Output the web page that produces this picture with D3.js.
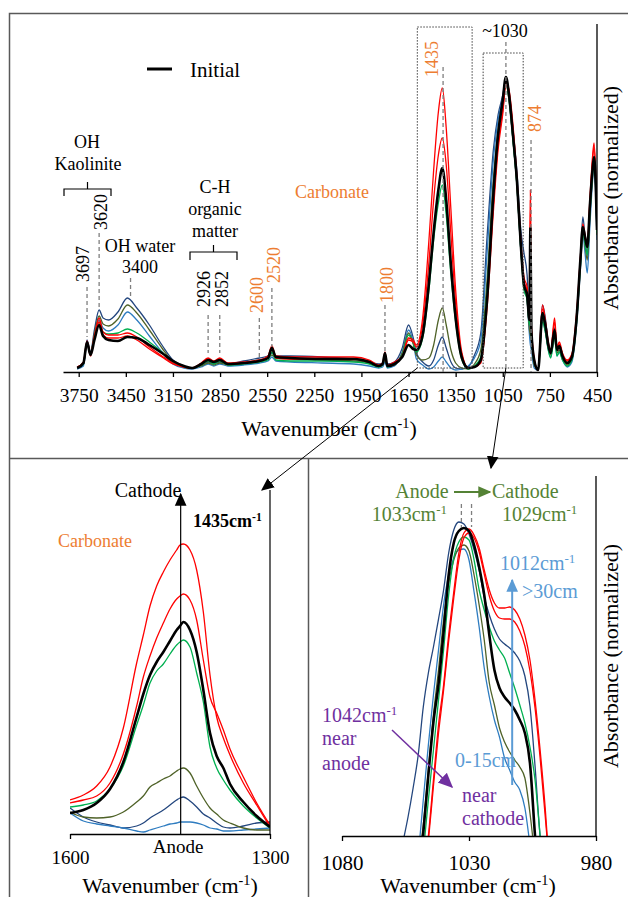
<!DOCTYPE html>
<html>
<head>
<meta charset="UTF-8">
<title>FTIR spectra</title>
<script src="https://cdn.jsdelivr.net/npm/d3@7"></script>
<style>
  body { margin: 0; background: #ffffff; }
</style>
</head>
<body>
<svg id="chart" width="628" height="897"></svg>
<script>
// ---- overview spectra, 3760-450 cm-1 (absorbance, arbitrary units) ----
const wnFull = [3760, 3720, 3697, 3675, 3650, 3620, 3595, 3560, 3500, 3440,
  3380, 3300, 3220, 3150, 3080, 3030, 2970, 2926, 2890, 2852,
  2800, 2700, 2600, 2545, 2520, 2495, 2400, 2200, 2000, 1900,
  1840, 1815, 1800, 1785, 1740, 1690, 1650, 1620, 1600, 1560,
  1520, 1490, 1460, 1435, 1410, 1380, 1350, 1310, 1270, 1230,
  1190, 1150, 1110, 1080, 1050, 1030, 1010, 985, 960, 935,
  915, 895, 880, 874, 868, 850, 825, 797, 779, 760,
  745, 720, 705, 690, 670, 640, 610, 580, 555, 540,
  525, 512, 495, 480, 469, 458, 450];
const fullRed1 = [5, 10, 31, 18, 36, 54, 40, 37, 37, 39, 35, 25, 16, 9, 5, 4, 9, 14, 11, 14,
  9, 10, 12, 16, 26, 16, 15, 15, 15, 12, 7, 9, 20, 7, 10, 16, 34, 32, 27, 54,
  132, 202, 260, 284, 244, 162, 82, 19, 4, 5, 10, 69, 167, 227, 262, 290, 282, 247, 195, 132,
  95, 85, 57, 182, 47, 14, 2, 67, 52, 30, 22, 54, 25, 30, 19, 12, 18, 59, 117, 148,
  136, 128, 174, 212, 229, 197, 147];
const fullRed2 = [5, 9, 29, 16, 33, 50, 37, 34, 34, 36, 32, 23, 15, 8, 5, 4, 8, 13, 10, 13,
  8, 9, 11, 14, 23, 14, 13, 13, 13, 11, 6, 8, 17, 6, 9, 15, 32, 30, 25, 47,
  110, 172, 217, 234, 207, 137, 69, 17, 4, 5, 9, 64, 160, 222, 258, 287, 278, 242, 190, 127,
  90, 82, 54, 172, 44, 12, 2, 63, 49, 28, 20, 50, 23, 28, 17, 11, 17, 56, 113, 145,
  133, 125, 170, 208, 225, 193, 144];
const fullInitial = [4, 9, 30, 17, 32, 47, 36, 32, 31, 35, 34, 27, 19, 11, 6, 4, 8, 12, 10, 12,
  8, 9, 11, 14, 24, 15, 14, 13, 13, 10, 6, 8, 19, 6, 8, 15, 27, 23, 22, 37,
  89, 140, 182, 204, 172, 107, 54, 14, 4, 5, 12, 72, 177, 237, 272, 295, 277, 237, 192, 127,
  87, 77, 52, 144, 42, 12, 2, 59, 47, 27, 19, 42, 22, 26, 16, 9, 15, 54, 114, 145,
  134, 125, 167, 200, 215, 187, 142];
const fullGreen = [4, 8, 29, 17, 34, 50, 40, 38, 39, 43, 39, 30, 20, 10, 5, 4, 7, 11, 8, 11,
  7, 8, 10, 12, 20, 12, 11, 11, 10, 8, 5, 7, 16, 5, 8, 17, 37, 29, 20, 34,
  82, 132, 169, 187, 157, 97, 50, 12, 3, 6, 15, 82, 182, 237, 269, 290, 272, 232, 187, 122,
  82, 72, 47, 52, 37, 10, 3, 50, 40, 22, 14, 34, 16, 20, 12, 6, 12, 50, 108, 140,
  127, 117, 160, 194, 212, 184, 139];
const fullOlive = [4, 8, 30, 19, 38, 56, 48, 46, 53, 67, 59, 42, 24, 10, 5, 4, 6, 9, 7, 9,
  7, 9, 12, 14, 17, 14, 13, 12, 11, 9, 6, 8, 12, 6, 7, 19, 39, 28, 17, 12,
  14, 27, 52, 64, 47, 22, 9, 4, 3, 8, 22, 92, 192, 242, 270, 288, 272, 232, 187, 122,
  87, 72, 42, 37, 32, 7, 3, 54, 42, 24, 17, 37, 19, 22, 14, 7, 13, 50, 107, 142,
  125, 112, 157, 192, 210, 182, 137];
const fullNavy = [4, 8, 32, 20, 42, 62, 54, 52, 60, 74, 64, 47, 27, 12, 6, 4, 7, 10, 8, 10,
  8, 11, 14, 16, 19, 16, 16, 15, 13, 10, 8, 9, 12, 8, 10, 24, 47, 34, 19, 10,
  6, 12, 27, 35, 24, 10, 4, 3, 5, 17, 39, 135, 222, 257, 277, 294, 280, 242, 200, 142,
  119, 97, 52, 42, 32, 6, 4, 67, 54, 29, 22, 44, 22, 27, 17, 9, 15, 54, 117, 155,
  132, 117, 162, 197, 212, 184, 140];
const fullLight = [3, 6, 28, 17, 35, 52, 44, 41, 47, 60, 52, 36, 20, 8, 4, 3, 5, 8, 6, 8,
  6, 7, 9, 11, 15, 11, 10, 9, 8, 6, 4, 5, 10, 4, 6, 20, 42, 30, 13, 7,
  3, 5, 11, 15, 10, 4, 2, 3, 6, 14, 32, 119, 212, 252, 274, 290, 274, 232, 187, 122,
  92, 72, 37, 27, 22, 4, 2, 52, 40, 22, 15, 35, 16, 20, 12, 5, 10, 47, 104, 137,
  117, 99, 147, 187, 205, 177, 132];

// ---- carbonate band detail, 1600-1300 cm-1 ----
const wnCarb = [1600, 1580, 1560, 1540, 1520, 1500, 1490, 1480, 1470, 1460, 1450, 1440,
  1435, 1430, 1420, 1410, 1400, 1390, 1380, 1370, 1360, 1340, 1320, 1300];
const carbRed1 = [34, 39, 48, 67, 106, 171, 199, 228, 248, 262, 274, 284, 289, 290, 284, 264, 222, 159, 117, 96, 79, 51, 29, 7];
const carbRed2 = [31, 34, 38, 51, 80, 128, 157, 178, 196, 211, 225, 235, 238, 240, 234, 214, 174, 137, 121, 104, 85, 57, 31, 9];
const carbInitial = [21, 24, 31, 45, 72, 117, 140, 159, 172, 182, 193, 204, 208, 212, 204, 182, 144, 101, 78, 66, 50, 32, 18, 7];
const carbGreen = [27, 29, 33, 45, 68, 109, 129, 151, 163, 170, 180, 189, 192, 194, 187, 161, 132, 87, 66, 54, 44, 28, 16, 6];
const carbOlive = [22, 17, 16, 17, 22, 32, 38, 47, 51, 55, 58, 63, 65, 66, 61, 48, 36, 26, 20, 14, 11, 6, 4, 4];
const carbNavy = [26, 17, 12, 9, 6, 8, 11, 16, 20, 24, 29, 34, 36, 37, 33, 27, 20, 16, 11, 7, 6, 8, 11, 12];
const carbLight = [21, 13, 10, 8, 6, 3, 2, 4, 6, 8, 10, 11, 12, 12, 12, 11, 9, 6, 5, 3, 3, 4, 5, 6];

// ---- Si-O band detail, 1056-998 cm-1 ----
const wnSil = [1056, 1054, 1052, 1050, 1048, 1046, 1044, 1042, 1040, 1038, 1036, 1034, 1032, 1030, 1028,
  1026, 1024, 1022, 1020, 1018, 1016, 1014, 1012, 1010, 1008, 1006, 1004, 1002, 1000, 998];
const silRed1 = [-320, -260, -200, -130, -44, 0, 56, 111, 151, 201, 244, 283, 303, 307, 301,
  288, 266, 246, 233, 228, 228, 229, 226, 217, 201, 176, 136, 86, 28, -44];
const silRed2 = [-330, -270, -210, -140, -50, -5, 50, 103, 146, 195, 238, 276, 298, 303, 298,
  284, 262, 240, 225, 218, 217, 217, 214, 205, 190, 165, 128, 78, 20, -40];
const silInitial = [-200, -160, -110, -54, 3, 61, 114, 152, 204, 261, 293, 305, 308, 305, 291,
  269, 241, 201, 166, 148, 139, 133, 126, 116, 103, 73, 0, -64, -124, -180];
const silGreen = [-220, -170, -120, -70, -17, 36, 86, 136, 186, 241, 278, 294, 299, 296, 276,
  246, 226, 209, 195, 186, 178, 163, 148, 131, 113, 89, 56, 0, -60, -120];
const silOlive = [-160, -110, -60, -25, 11, 66, 121, 166, 216, 253, 276, 288, 291, 285, 261,
  231, 196, 153, 131, 108, 94, 84, 76, 69, 58, 23, -24, -80, -140, -200];
const silNavy = [-6, 19, 48, 81, 129, 163, 189, 217, 246, 283, 306, 314, 312, 302, 286,
  266, 239, 221, 207, 197, 192, 188, 183, 175, 160, 130, 70, 0, -34, -64];
const silLight = [-170, -120, -70, -20, 36, 91, 141, 186, 231, 261, 278, 286, 287, 276, 244,
  209, 168, 139, 116, 99, 78, 66, 54, 46, 28, -9, -50, -100, -150, -200];

const ticksFull = [3750, 3450, 3150, 2850, 2550, 2250, 1950, 1650, 1350, 1050, 750, 450];
const ticksCarb = [1600, 1300];
const ticksSil = [1080, 1030, 980];

const RED = '#ff0000', BLACK = '#000000', GREEN = '#00b050', OLIVE = '#4f6228',
  NAVY = '#23467e', LIGHT = '#2e7cc0';
const ORANGE = '#ed7d31', ANNO_GREEN = '#548235', ANNO_BLUE = '#5b9bd5', PURPLE = '#7030a0';
const SERIF = '"Liberation Serif", "Times New Roman", serif';

const svg = d3.select('#chart').attr('font-family', SERIF);
const defs = svg.append('defs');

function marker(id, color, size) {
  defs.append('marker')
    .attr('id', id)
    .attr('viewBox', '0 0 10 10')
    .attr('refX', 9).attr('refY', 5)
    .attr('markerUnits', 'userSpaceOnUse')
    .attr('markerWidth', size).attr('markerHeight', size)
    .attr('orient', 'auto')
    .append('path').attr('d', 'M0,0.5L10,5L0,9.5Z').attr('fill', color);
}
marker('headBlack', BLACK, 13);
marker('headGreen', ANNO_GREEN, 13);
marker('headBlue', ANNO_BLUE, 13);
marker('headPurple', PURPLE, 15);

function clip(id, x, y, w, h) {
  defs.append('clipPath').attr('id', id).append('rect')
    .attr('x', x).attr('y', y).attr('width', w).attr('height', h);
}

// text with optional superscript parts: ['cm', {sup: '-1'}]
function label(x, y, parts, o = {}) {
  const t = svg.append('text')
    .attr('x', x).attr('y', y)
    .attr('font-size', o.size || 18)
    .attr('fill', o.color || BLACK)
    .attr('text-anchor', o.anchor || 'start');
  if (o.weight) t.attr('font-weight', o.weight);
  if (o.rotate) t.attr('transform', 'rotate(-90 ' + x + ' ' + y + ')');
  (Array.isArray(parts) ? parts : [parts]).forEach(function (p) {
    if (typeof p === 'string') t.append('tspan').text(p);
    else t.append('tspan').attr('baseline-shift', 'super').attr('font-size', '65%').text(p.sup);
  });
  return t;
}

function seg(x1, y1, x2, y2, stroke, width, dash, head) {
  const l = svg.append('line')
    .attr('x1', x1).attr('y1', y1).attr('x2', x2).attr('y2', y2)
    .attr('stroke', stroke).attr('stroke-width', width);
  if (dash) l.attr('stroke-dasharray', dash);
  if (head) l.attr('marker-end', 'url(#' + head + ')');
  return l;
}

function drawSpectra(x, y, wn, list, clipId) {
  const line = d3.line()
    .x(function (d) { return x(d[0]); })
    .y(function (d) { return y(d[1]); })
    .curve(d3.curveMonotoneX);
  const g = svg.append('g').attr('clip-path', 'url(#' + clipId + ')');
  list.forEach(function (s) {
    g.append('path')
      .attr('d', line(wn.map(function (w, i) { return [w, s.values[i]]; })))
      .attr('fill', 'none')
      .attr('stroke', s.color)
      .attr('stroke-width', s.width)
      .attr('stroke-linejoin', 'round');
  });
}

function styleAxis(g, size) {
  g.attr('font-family', SERIF);
  g.select('.domain').attr('stroke', BLACK).attr('stroke-width', 1.3);
  g.selectAll('.tick line').attr('stroke', BLACK).attr('stroke-width', 1.3);
  g.selectAll('.tick text').attr('font-size', size).attr('fill', BLACK);
}

function seriesList(navy, light, olive, green, red2, red1, initial, blackWidth) {
  return [
    { values: navy, color: NAVY, width: 1.3 },
    { values: light, color: LIGHT, width: 1.3 },
    { values: olive, color: OLIVE, width: 1.3 },
    { values: green, color: GREEN, width: 1.3 },
    { values: red2, color: RED, width: 1.3 },
    { values: red1, color: RED, width: 1.3 },
    { values: initial, color: BLACK, width: blackWidth }
  ];
}

// ---- frame ----
svg.append('path')
  .attr('d', 'M9.5,897 V13.5 H628 M9.5,458.5 H628 M308.5,458.5 V897')
  .attr('fill', 'none').attr('stroke', '#595959').attr('stroke-width', 1.5);

// ================= top panel =================
const xTop = d3.scaleLinear().domain([3850, 450]).range([63, 597]);
const yTop = d3.scaleLinear().domain([0, 348]).range([372, 24]);
clip('clipTop', 63, 20, 534, 352);

drawSpectra(xTop, yTop, wnFull,
  seriesList(fullNavy, fullLight, fullOlive, fullGreen, fullRed2, fullRed1, fullInitial, 2.6), 'clipTop');

const axTop = svg.append('g')
  .attr('transform', 'translate(0,372)')
  .call(d3.axisBottom(xTop).tickValues(ticksFull).tickSize(5).tickSizeOuter(0).tickPadding(11)
    .tickFormat(d3.format('d')));
styleAxis(axTop, 19.5);
seg(597, yTop.range()[1], 597, 372, BLACK, 1.3);

label(329, 436, ['Wavenumber (cm', { sup: '-1' }, ')'], { size: 22, anchor: 'middle' });
label(618, 198, 'Absorbance (normalized)', { size: 22, anchor: 'middle', rotate: true });

// legend
seg(147, 69, 172, 69, BLACK, 3);
label(190, 77, 'Initial', { size: 21 });

// dotted zoom boxes
[[1594, 1245, 345], [1175, 920, 319]].forEach(function (b) {
  svg.append('rect')
    .attr('x', xTop(b[0])).attr('y', yTop(b[2]))
    .attr('width', xTop(b[1]) - xTop(b[0])).attr('height', yTop(4) - yTop(b[2]))
    .attr('fill', 'none').attr('stroke', '#404040').attr('stroke-width', 1)
    .attr('stroke-dasharray', '1.5,1.5');
});

// dashed peak markers [wavenumber, top y, bottom y]
[[3697, 287, 337], [3620, 233, 310], [3420, 278, 298], [2926, 315, 353], [2852, 315, 353],
 [2600, 318, 357], [2520, 288, 347], [1800, 305, 353], [1430, 67, 372], [1030, 42, 372],
 [870, 140, 372]].forEach(function (d) {
  seg(xTop(d[0]), d[1], xTop(d[0]), d[2], '#7f7f7f', 1.3, '4,3');
});

// rotated peak labels [text, baseline x, start y, colour]
[['3697', 89, 282, BLACK], ['3620', 107, 230, BLACK], ['2926', 210, 307, BLACK],
 ['2852', 228, 307, BLACK], ['2600', 263, 313, ORANGE], ['2520', 280, 283, ORANGE],
 ['1800', 393, 303, ORANGE], ['1435', 438, 77, ORANGE], ['874', 541, 132, ORANGE]
].forEach(function (d) {
  label(d[1], d[2], d[0], { color: d[3], rotate: true });
});

label(505, 37, '~1030', { anchor: 'middle' });
label(87, 148, 'OH', { anchor: 'middle' });
label(88, 170, 'Kaolinite', { anchor: 'middle' });
label(140, 252, 'OH water', { anchor: 'middle' });
label(140, 273, '3400', { anchor: 'middle' });
label(215, 193, 'C-H', { anchor: 'middle' });
label(215, 215, 'organic', { anchor: 'middle' });
label(215, 237, 'matter', { anchor: 'middle' });
label(295, 198, 'Carbonate', { color: ORANGE });

svg.append('path')
  .attr('d', 'M64,196 V189 H111 V196 M87.5,189 V182 M190,260 V252 H237 V260 M213.5,252 V245')
  .attr('fill', 'none').attr('stroke', BLACK).attr('stroke-width', 1.2);

// arrows from zoom boxes to detail panels
seg(xTop(1594), yTop(4), 262, 490, BLACK, 1, null, 'headBlack');
seg(xTop(1030), yTop(4), 491, 468, BLACK, 1, null, 'headBlack');

// ================= bottom left: carbonate band =================
const xCarb = d3.scaleLinear().domain([1600, 1300]).range([70, 270]);
const yCarb = d3.scaleLinear().domain([0, 343]).range([834, 491]);
clip('clipCarb', 70, 480, 200, 354);

drawSpectra(xCarb, yCarb, wnCarb,
  seriesList(carbNavy, carbLight, carbOlive, carbGreen, carbRed2, carbRed1, carbInitial, 2.6), 'clipCarb');

const axCarb = svg.append('g')
  .attr('transform', 'translate(0,834)')
  .call(d3.axisBottom(xCarb).tickValues(ticksCarb).tickSize(5).tickSizeOuter(0).tickPadding(12)
    .tickFormat(d3.format('d')));
styleAxis(axCarb, 19);
seg(xCarb(1300), 490, xCarb(1300), 834, BLACK, 1.2);
seg(xCarb(1434), 834, xCarb(1434), 494, BLACK, 1.2, null, 'headBlack');

label(148, 497, 'Cathode', { size: 20, anchor: 'middle' });
label(193, 527, ['1435cm', { sup: '-1' }], { weight: 'bold' });
label(58, 547, 'Carbonate', { color: ORANGE });
label(178, 853, 'Anode', { size: 19, anchor: 'middle' });
label(170, 893, ['Wavenumber (cm', { sup: '-1' }, ')'], { size: 22, anchor: 'middle' });

// ================= bottom right: Si-O band =================
const xSil = d3.scaleLinear().domain([1080, 980]).range([342, 596]);
const ySil = d3.scaleLinear().domain([0, 360]).range([836, 476]);
clip('clipSil', 342, 470, 254, 366);

drawSpectra(xSil, ySil, wnSil,
  seriesList(silNavy, silLight, silOlive, silGreen, silRed2, silRed1, silInitial, 2.6), 'clipSil');

const axSil = svg.append('g')
  .attr('transform', 'translate(0,836)')
  .call(d3.axisBottom(xSil).tickValues(ticksSil).tickSize(5).tickSizeOuter(0).tickPadding(14)
    .tickFormat(d3.format('d')));
styleAxis(axSil, 21);
seg(596, 476, 596, 836, BLACK, 1.3);

label(468, 893, ['Wavenumber (cm', { sup: '-1' }, ')'], { size: 22, anchor: 'middle' });
label(618, 656, 'Absorbance (normalized)', { size: 22, anchor: 'middle', rotate: true });

// anode -> cathode shift
label(422, 498, 'Anode', { size: 20, anchor: 'middle', color: ANNO_GREEN });
seg(454, 492, 490, 492, ANNO_GREEN, 2, null, 'headGreen');
label(492, 498, 'Cathode', { size: 20, color: ANNO_GREEN });
label(447, 521, ['1033cm', { sup: '-1' }], { size: 20, anchor: 'end', color: ANNO_GREEN });
label(502, 521, ['1029cm', { sup: '-1' }], { size: 20, color: ANNO_GREEN });
seg(xSil(1033), 504, xSil(1033), 527, '#7f7f7f', 1.3, '4,3');
seg(xSil(1029), 504, xSil(1029), 527, '#7f7f7f', 1.3, '4,3');

// 1012 shoulder
label(500, 570, ['1012cm', { sup: '-1' }], { size: 20, color: ANNO_BLUE });
label(522, 598, '>30cm', { size: 20, color: ANNO_BLUE });
label(455, 767, '0-15cm', { size: 20, color: ANNO_BLUE });
seg(xSil(1013), 785, xSil(1013), 580, ANNO_BLUE, 2, null, 'headBlue');

// 1042 near anode -> near cathode
label(322, 722, ['1042cm', { sup: '-1' }], { size: 20, color: PURPLE });
label(322, 745, 'near', { size: 20, color: PURPLE });
label(322, 770, 'anode', { size: 20, color: PURPLE });
seg(392, 730, 452, 787, PURPLE, 1.5, null, 'headPurple');
label(462, 802, 'near', { size: 20, color: PURPLE });
label(462, 825, 'cathode', { size: 20, color: PURPLE });
</script>
</body>
</html>
